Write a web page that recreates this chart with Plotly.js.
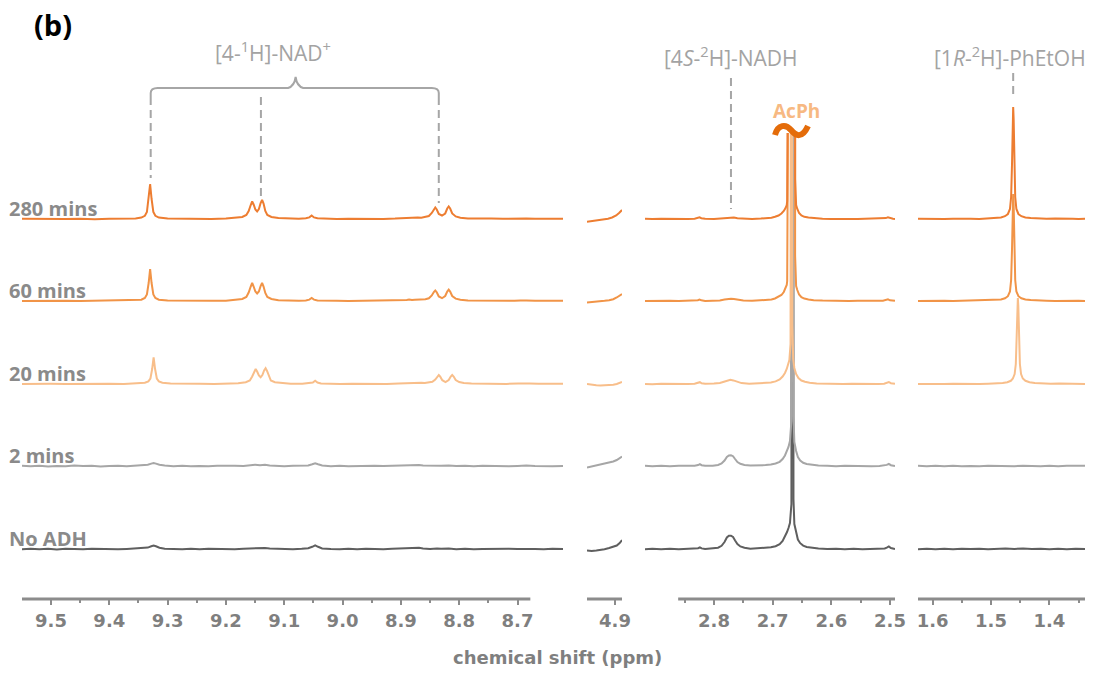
<!DOCTYPE html>
<html>
<head>
<meta charset="utf-8">
<script src="https://cdn.plot.ly/plotly-3.0.1.min.js"></script>
<style>
  html, body { margin: 0; padding: 0; background: #ffffff; }
  #chart { width: 1105px; height: 675px; }
</style>
</head>
<body>
<div id="chart"></div>
<script>
// ---------------------------------------------------------------
// 1H NMR time course: stacked spectra, four chemical-shift windows.
// Each spectrum is a list of [ppm, intensity] points.
// ---------------------------------------------------------------

const rowLabels = ['280 mins', '60 mins', '20 mins', '2 mins', 'No ADH'];

// --- window 1: 9.55 - 8.62 ppm ([4-1H]-NAD+ aromatic signals) ---
const nad280 = [[9.550,0.2],[9.525,-0.1],[9.500,0.3],[9.475,0.0],[9.450,0.2],[9.425,-0.2],[9.400,0.3],[9.375,0.1],[9.355,0.6],[9.345,1.4],[9.339,3.2],[9.3355,7],[9.3325,20],[9.330,35],[9.3275,20],[9.3245,7],[9.321,3.2],[9.315,1.4],[9.300,0.5],[9.275,0.1],[9.250,0.3],[9.225,0.0],[9.200,0.4],[9.185,0.9],[9.172,2],[9.165,4],[9.161,8],[9.1575,14],[9.155,17.5],[9.1525,14.5],[9.1495,9.5],[9.1465,7.5],[9.1435,10],[9.1405,16],[9.138,19],[9.1355,15.5],[9.1325,8],[9.129,4],[9.122,2],[9.110,0.9],[9.095,0.4],[9.075,0.3],[9.063,0.7],[9.057,1.6],[9.053,3.5],[9.049,1.6],[9.043,0.7],[9.030,0.3],[9.010,0.1],[8.990,0.3],[8.970,0.0],[8.950,0.2],[8.930,0.1],[8.910,0.4],[8.898,0.7],[8.890,1.2],[8.886,1.6],[8.881,1.1],[8.876,1.4],[8.871,1.5],[8.865,1.3],[8.858,2],[8.852,3],[8.847,6],[8.8435,10],[8.841,11.5],[8.8385,9.5],[8.835,5],[8.8295,3.5],[8.824,5.5],[8.8205,10.5],[8.818,12.5],[8.8155,10.5],[8.812,5.5],[8.806,2.6],[8.798,1.3],[8.785,0.6],[8.765,0.2],[8.745,0.4],[8.725,0.2],[8.705,0.4],[8.695,0.6],[8.690,0.9],[8.685,0.6],[8.670,0.3],[8.650,0.1],[8.635,0.3],[8.622,0.2]];
const nad60 = [[9.550,-0.1],[9.525,0.2],[9.500,0.0],[9.475,0.3],[9.450,-0.1],[9.425,0.2],[9.400,0.0],[9.375,0.3],[9.355,0.6],[9.345,1.3],[9.339,3],[9.3355,6.5],[9.3325,18],[9.330,32],[9.3275,18],[9.3245,6.5],[9.321,3],[9.315,1.3],[9.300,0.4],[9.275,0.2],[9.250,-0.1],[9.225,0.2],[9.200,0.3],[9.185,0.9],[9.172,2],[9.165,4],[9.161,8.5],[9.1575,14.5],[9.155,18],[9.1525,14.5],[9.1495,9.5],[9.1465,7.5],[9.1435,9.5],[9.1405,15],[9.138,18],[9.1355,14.5],[9.1325,8],[9.129,4],[9.122,2],[9.110,0.8],[9.095,0.4],[9.075,0.2],[9.063,0.6],[9.057,1.4],[9.053,3],[9.049,1.4],[9.043,0.6],[9.030,0.2],[9.010,0.3],[8.990,0.0],[8.970,0.2],[8.950,0.0],[8.930,0.3],[8.910,0.3],[8.898,0.6],[8.890,1.1],[8.886,1.5],[8.881,1.0],[8.876,1.3],[8.871,1.4],[8.865,1.2],[8.858,1.8],[8.852,2.7],[8.847,5.5],[8.8435,9],[8.841,10.5],[8.8385,8.8],[8.835,4.5],[8.8295,2.8],[8.824,5],[8.8205,9.5],[8.818,11.3],[8.8155,9.5],[8.812,5],[8.806,2.4],[8.798,1.2],[8.785,0.5],[8.765,0.3],[8.745,0.1],[8.725,0.4],[8.705,0.3],[8.695,0.5],[8.690,0.8],[8.685,0.5],[8.670,0.2],[8.650,0.3],[8.635,0.1],[8.622,0.2]];
const nad20 = [[9.550,0.1],[9.525,-0.2],[9.500,0.2],[9.475,0.0],[9.450,0.3],[9.425,0.0],[9.400,0.2],[9.375,-0.1],[9.350,0.5],[9.339,1.2],[9.333,2.6],[9.3295,5.5],[9.3265,15],[9.324,26.7],[9.3215,15],[9.3185,5.5],[9.315,2.6],[9.309,1.2],[9.295,0.4],[9.270,0.0],[9.245,0.3],[9.220,0.1],[9.195,0.4],[9.179,0.8],[9.166,1.8],[9.159,3.5],[9.155,7.5],[9.1515,12.5],[9.149,15],[9.1465,12.5],[9.1435,8.5],[9.1405,6.7],[9.1375,9],[9.1345,13.5],[9.132,15.7],[9.1295,13],[9.1265,7.5],[9.123,3.5],[9.116,1.8],[9.104,0.8],[9.089,0.3],[9.069,0.2],[9.057,0.6],[9.051,1.5],[9.047,3.3],[9.043,1.5],[9.037,0.6],[9.024,0.3],[9.004,0.0],[8.984,0.3],[8.964,0.1],[8.944,0.3],[8.924,0.0],[8.904,0.4],[8.892,0.7],[8.884,1.0],[8.880,1.3],[8.875,0.9],[8.870,1.1],[8.865,1.3],[8.859,1.0],[8.852,1.5],[8.846,2.2],[8.841,4.5],[8.8375,7.5],[8.835,9],[8.8325,7.3],[8.829,3.8],[8.8235,2.0],[8.818,4],[8.8145,7.5],[8.812,9],[8.8095,7.5],[8.806,4],[8.800,2],[8.792,1],[8.779,0.4],[8.759,0.1],[8.739,0.3],[8.719,0.1],[8.699,0.4],[8.689,0.6],[8.684,0.9],[8.679,0.5],[8.664,0.2],[8.644,0.3],[8.629,0.1],[8.622,0.2]];
const nad2 = [[9.550,0.3],[9.535,-0.3],[9.520,0.2],[9.505,-0.4],[9.490,0.1],[9.475,-0.2],[9.460,0.4],[9.445,-0.1],[9.430,0.2],[9.415,-0.4],[9.400,0.0],[9.385,0.3],[9.370,-0.2],[9.355,0.2],[9.343,0.5],[9.334,1.2],[9.328,2.4],[9.324,3.0],[9.320,2.4],[9.314,1.2],[9.305,0.4],[9.290,-0.2],[9.275,0.2],[9.260,-0.3],[9.245,0.1],[9.230,-0.2],[9.215,0.3],[9.200,-0.1],[9.185,0.2],[9.170,0.0],[9.158,0.6],[9.150,1.3],[9.1415,0.7],[9.133,1.3],[9.125,0.6],[9.112,0.1],[9.100,-0.3],[9.085,0.2],[9.070,0.0],[9.059,0.6],[9.052,1.8],[9.047,2.8],[9.042,1.8],[9.035,0.5],[9.020,-0.2],[9.005,0.2],[8.990,-0.3],[8.975,0.1],[8.960,-0.2],[8.945,0.2],[8.930,-0.1],[8.915,0.3],[8.900,0.1],[8.888,0.6],[8.881,1.1],[8.876,0.7],[8.869,1.1],[8.862,0.5],[8.850,0.2],[8.838,0.6],[8.831,0.3],[8.818,0.5],[8.805,0.0],[8.790,0.3],[8.775,-0.2],[8.760,0.2],[8.745,-0.1],[8.730,0.2],[8.715,-0.2],[8.700,0.1],[8.685,0.4],[8.670,-0.1],[8.655,0.2],[8.640,-0.2],[8.622,0.1]];
const nadNo = [[9.550,-0.2],[9.535,0.3],[9.520,-0.3],[9.505,0.2],[9.490,-0.4],[9.475,0.3],[9.460,0.0],[9.445,-0.3],[9.430,0.3],[9.415,-0.1],[9.400,0.2],[9.385,-0.3],[9.370,0.1],[9.355,0.4],[9.343,0.6],[9.334,1.4],[9.328,2.7],[9.324,3.4],[9.320,2.7],[9.314,1.3],[9.305,0.3],[9.290,0.0],[9.275,-0.3],[9.260,0.2],[9.245,-0.2],[9.230,0.3],[9.215,-0.1],[9.200,0.2],[9.185,-0.2],[9.170,0.3],[9.158,0.6],[9.150,1.1],[9.1415,0.6],[9.133,1.0],[9.125,0.4],[9.112,0.0],[9.100,0.3],[9.085,-0.2],[9.070,0.2],[9.059,0.8],[9.052,2.2],[9.047,3.7],[9.042,2.2],[9.035,0.6],[9.020,0.0],[9.005,-0.3],[8.990,0.2],[8.975,-0.2],[8.960,0.3],[8.945,0.0],[8.930,-0.3],[8.915,0.2],[8.900,0.4],[8.888,0.8],[8.881,1.3],[8.876,0.8],[8.869,1.3],[8.862,0.6],[8.850,0.1],[8.838,0.5],[8.831,0.2],[8.818,0.4],[8.805,-0.2],[8.790,0.2],[8.775,-0.3],[8.760,0.1],[8.745,0.3],[8.730,-0.2],[8.715,0.2],[8.700,-0.1],[8.685,0.3],[8.670,0.0],[8.655,-0.3],[8.640,0.2],[8.622,-0.1]];

// --- window 2: 4.95 - 4.89 ppm (edge of the water signal) ---
const hdo280 = [[4.948,-2.7],[4.940,-2.2],[4.932,-1.8],[4.925,-1.2],[4.918,-0.8],[4.912,0.2],[4.905,1.5],[4.898,3.5],[4.893,6],[4.888,9]];
const hdo60 = [[4.948,-1.5],[4.940,-1.2],[4.932,-0.5],[4.925,-0.8],[4.918,0.2],[4.910,0.8],[4.903,1.8],[4.897,3.5],[4.892,5],[4.888,7]];
const hdo20 = [[4.948,0],[4.940,-0.8],[4.932,-1.3],[4.925,-1.5],[4.918,-1.2],[4.910,-1.4],[4.903,-0.8],[4.897,0],[4.892,1],[4.888,2]];
const hdo2 = [[4.948,-1.5],[4.940,-0.5],[4.932,0.5],[4.925,1.5],[4.918,2.5],[4.910,3],[4.903,4.5],[4.897,6],[4.892,7.5],[4.888,9.5]];
const hdoNo = [[4.948,-1.5],[4.940,-2],[4.932,-1.5],[4.925,-1],[4.918,-0.2],[4.910,1],[4.903,2],[4.897,3.5],[4.892,6],[4.888,9]];

// --- window 3: 2.92 - 2.49 ppm ([4S-2H]-NADH and acetophenone CH3) ---
const acph280 = [[2.9175,0.2],[2.905,-0.1],[2.890,0.3],[2.875,0.0],[2.860,0.2],[2.845,-0.1],[2.833,0.3],[2.8275,0.9],[2.8245,1.6],[2.8215,0.8],[2.815,0.2],[2.800,0.0],[2.790,0.4],[2.782,1.0],[2.776,1.5],[2.771,1.7],[2.766,1.4],[2.760,0.8],[2.750,0.3],[2.735,0.1],[2.720,0.4],[2.710,0.8],[2.702,1.3],[2.696,2.2],[2.690,3.5],[2.685,5.5],[2.681,8],[2.678,11],[2.676,14],[2.6752,18],[2.6748,40],[2.6745,1600],[2.6620,1600],[2.6617,40],[2.6612,18],[2.660,14],[2.658,10],[2.655,6],[2.651,3.5],[2.646,2.2],[2.639,1.4],[2.630,0.8],[2.615,0.3],[2.600,0.0],[2.585,0.3],[2.570,0.1],[2.555,-0.1],[2.540,0.2],[2.525,0.0],[2.512,0.3],[2.507,0.9],[2.5035,1.8],[2.500,0.8],[2.495,0.2],[2.4915,0.1]];
const acph60 = [[2.9175,-0.1],[2.905,0.2],[2.890,0.0],[2.875,0.3],[2.860,-0.1],[2.845,0.2],[2.833,0.3],[2.8275,0.8],[2.8245,1.5],[2.8215,0.7],[2.815,0.1],[2.800,0.3],[2.790,0.6],[2.782,1.4],[2.776,2.1],[2.771,2.3],[2.766,1.9],[2.760,1.1],[2.750,0.4],[2.735,0.2],[2.720,0.5],[2.710,0.9],[2.702,1.5],[2.696,2.5],[2.690,4],[2.685,6],[2.681,9],[2.678,12.5],[2.676,16],[2.6752,20],[2.6748,45],[2.6745,1600],[2.6620,1600],[2.6617,45],[2.6612,20],[2.660,15],[2.658,11],[2.655,6.5],[2.651,3.8],[2.646,2.4],[2.639,1.5],[2.630,0.8],[2.615,0.4],[2.600,0.1],[2.585,0.3],[2.570,0.0],[2.555,0.2],[2.540,-0.1],[2.525,0.2],[2.512,0.3],[2.507,0.8],[2.5035,1.6],[2.500,0.7],[2.495,0.1],[2.4915,0.2]];
const acph20 = [[2.9175,0.1],[2.905,-0.2],[2.890,0.2],[2.875,-0.1],[2.860,0.3],[2.845,0.0],[2.833,0.2],[2.827,0.8],[2.824,1.8],[2.821,0.7],[2.815,0.2],[2.800,0.4],[2.790,1.0],[2.783,2.2],[2.777,3.6],[2.772,4.2],[2.767,3.6],[2.761,2.2],[2.753,0.9],[2.740,0.3],[2.725,0.5],[2.712,0.9],[2.703,1.5],[2.695,2.6],[2.688,4.5],[2.683,7.5],[2.679,11],[2.676,15],[2.6735,19],[2.6715,24],[2.6695,40],[2.6682,1600],[2.6676,1600],[2.6665,60],[2.665,25],[2.663,16],[2.660,10],[2.656,6],[2.651,3.5],[2.645,2.2],[2.637,1.2],[2.625,0.6],[2.610,0.2],[2.595,0.4],[2.580,0.0],[2.565,0.2],[2.550,-0.1],[2.535,0.2],[2.520,0.0],[2.510,0.3],[2.5055,1.0],[2.502,2.0],[2.4985,0.8],[2.4915,0.2]];
const acph2 = [[2.9175,0.2],[2.905,-0.3],[2.890,0.2],[2.875,-0.2],[2.860,0.3],[2.845,-0.1],[2.833,0.3],[2.827,0.9],[2.824,1.9],[2.821,0.8],[2.815,0.2],[2.802,0.3],[2.793,1.0],[2.787,2.5],[2.782,5.5],[2.778,9],[2.7745,10.5],[2.771,10.7],[2.7675,9.8],[2.764,7],[2.760,4],[2.755,2.2],[2.748,1.0],[2.738,0.4],[2.725,0.5],[2.712,0.9],[2.703,1.5],[2.695,2.5],[2.688,4.2],[2.683,7],[2.679,10.5],[2.6755,15],[2.673,19],[2.6705,25],[2.668,45],[2.6668,1600],[2.6655,1600],[2.6645,50],[2.663,24],[2.660,15],[2.657,9],[2.653,5.5],[2.648,3.2],[2.642,2],[2.634,1.2],[2.622,0.5],[2.607,0.2],[2.592,-0.2],[2.577,0.2],[2.562,-0.1],[2.547,0.2],[2.532,-0.2],[2.518,0.1],[2.509,0.4],[2.5055,1.1],[2.502,2.2],[2.4985,0.8],[2.4915,0.0]];
const acphNo = [[2.9175,-0.2],[2.905,0.2],[2.890,-0.3],[2.875,0.2],[2.860,-0.2],[2.845,0.3],[2.833,0.0],[2.827,0.8],[2.824,1.7],[2.821,0.6],[2.815,-0.1],[2.802,0.4],[2.793,1.3],[2.787,3.2],[2.782,7],[2.778,11.5],[2.7745,13.2],[2.771,13.3],[2.7675,12],[2.764,8.5],[2.760,5],[2.755,2.6],[2.748,1.2],[2.738,0.3],[2.725,0.6],[2.712,1.0],[2.703,1.7],[2.695,2.8],[2.688,4.8],[2.683,8],[2.679,12],[2.6755,17],[2.673,21],[2.6705,26],[2.668,45],[2.6668,1600],[2.6655,1600],[2.6645,50],[2.663,25],[2.660,16],[2.657,9.5],[2.653,5.8],[2.648,3.4],[2.642,2.1],[2.634,1.3],[2.622,0.5],[2.607,-0.1],[2.592,0.3],[2.577,-0.2],[2.562,0.2],[2.547,-0.2],[2.532,0.1],[2.518,-0.1],[2.509,0.5],[2.5055,1.4],[2.502,2.6],[2.4985,1.0],[2.4915,0.1]];

// --- window 4: 1.63 - 1.34 ppm ([1R-2H]-1-phenylethanol CH3) ---
const phe280 = [[1.625,0.2],[1.610,-0.1],[1.595,0.3],[1.580,0.0],[1.565,0.2],[1.550,-0.1],[1.535,0.3],[1.520,0.1],[1.505,0.5],[1.492,0.9],[1.483,1.6],[1.476,2.8],[1.471,5],[1.4675,10],[1.4655,22],[1.4640,55],[1.4628,100],[1.4620,112],[1.4612,100],[1.4600,55],[1.4585,22],[1.4565,10],[1.453,5],[1.448,2.8],[1.441,1.6],[1.432,0.9],[1.420,0.5],[1.405,0.2],[1.390,0.4],[1.375,0.0],[1.360,0.3],[1.350,0.1],[1.339,0.2]];
const phe60 = [[1.625,-0.1],[1.610,0.2],[1.595,0.0],[1.580,0.3],[1.565,-0.1],[1.550,0.2],[1.535,0.0],[1.520,0.3],[1.505,0.5],[1.492,0.9],[1.483,1.5],[1.476,2.7],[1.471,4.8],[1.4675,9.5],[1.4655,21],[1.4640,52],[1.4628,96],[1.4620,107],[1.4612,96],[1.4600,52],[1.4585,21],[1.4565,9.5],[1.453,4.8],[1.448,2.7],[1.441,1.5],[1.432,0.9],[1.420,0.4],[1.405,0.3],[1.390,0.0],[1.375,0.3],[1.360,0.1],[1.350,0.2],[1.339,0.0]];
const phe20 = [[1.625,0.1],[1.610,-0.2],[1.595,0.2],[1.580,-0.1],[1.565,0.3],[1.550,0.0],[1.535,0.2],[1.520,0.0],[1.505,0.3],[1.490,0.6],[1.480,1.0],[1.472,1.8],[1.466,3.2],[1.4625,5.5],[1.4595,10],[1.4575,20],[1.4560,48],[1.4548,78],[1.4540,86],[1.4532,78],[1.4520,48],[1.4505,20],[1.4485,10],[1.4455,5.5],[1.441,3.2],[1.434,1.8],[1.425,1.0],[1.413,0.5],[1.398,0.2],[1.383,0.4],[1.368,0.1],[1.353,0.3],[1.339,0.1]];
const phe2 = [[1.625,0.2],[1.610,-0.3],[1.595,0.3],[1.580,-0.2],[1.565,0.2],[1.550,-0.3],[1.535,0.1],[1.520,-0.2],[1.505,0.3],[1.490,-0.1],[1.475,0.2],[1.460,-0.2],[1.445,0.3],[1.430,0.0],[1.415,-0.3],[1.400,0.2],[1.385,-0.2],[1.370,0.3],[1.355,-0.1],[1.339,0.2]];
const pheNo = [[1.625,-0.2],[1.610,0.3],[1.595,-0.2],[1.580,0.2],[1.565,-0.3],[1.550,0.2],[1.535,-0.1],[1.520,0.3],[1.505,-0.2],[1.490,0.2],[1.475,0.4],[1.460,0.1],[1.445,0.4],[1.430,-0.1],[1.415,0.2],[1.400,-0.3],[1.385,0.2],[1.370,-0.2],[1.355,0.3],[1.339,-0.1]];

// tick positions and labels of the four ppm windows
const nadTicks = [9.5, 9.4, 9.3, 9.2, 9.1, 9.0, 8.9, 8.8, 8.7];
const nadTickText = ['9.5', '9.4', '9.3', '9.2', '9.1', '9.0', '8.9', '8.8', '8.7'];
const nadMinor = [9.45, 9.35, 9.25, 9.15, 9.05, 8.95, 8.85, 8.75];
const hdoTicks = [4.9];
const hdoTickText = ['4.9'];
const acphTicks = [2.8, 2.7, 2.6, 2.5];
const acphTickText = ['2.8', '2.7', '2.6', '2.5'];
const acphMinor = [2.85, 2.75, 2.65, 2.55];
const pheTicks = [1.6, 1.5, 1.4];
const pheTickText = ['1.6', '1.5', '1.4'];
const pheMinor = [1.55, 1.45, 1.35];

// signal positions marked with dashed guides (ppm)
const nadMarks = [9.329, 9.140, 8.835];
const nadhMark = 2.771;
const phetohMark = 1.462;

// ---------------------------------------------------------------
// styling / layout
// ---------------------------------------------------------------
const W = 1105, H = 675;
const px = p => p / W;          // horizontal pixel -> paper
const py = p => 1 - p / H;      // vertical pixel -> paper

const rowOffsets = [330, 248, 165, 83, 0];   // vertical stacking of the spectra
const rowColors = ['#ED7D31', '#F19447', '#F8BE8A', '#A6A6A6', '#5F5F5F'];

const windows = [
  { spectra: [nad280, nad60, nad20, nad2, nadNo], xa: 'x', ya: 'y' },
  { spectra: [hdo280, hdo60, hdo20, hdo2, hdoNo], xa: 'x2', ya: 'y2' },
  { spectra: [acph280, acph60, acph20, acph2, acphNo], xa: 'x3', ya: 'y3' },
  { spectra: [phe280, phe60, phe20, phe2, pheNo], xa: 'x4', ya: 'y4' }
];

const traces = [];
windows.forEach(win => {
  // bottom spectrum first so the orange spectra lie on top
  for (let r = rowLabels.length - 1; r >= 0; r--) {
    const s = win.spectra[r];
    traces.push({
      type: 'scatter', mode: 'lines',
      x: s.map(p => p[0]),
      y: s.map(p => p[1] + rowOffsets[r]),
      xaxis: win.xa, yaxis: win.ya,
      line: { color: rowColors[r], width: 2, shape: 'linear' },
      hoverinfo: 'skip', showlegend: false, name: rowLabels[r]
    });
  }
});

const tickFont = { family: 'DejaVu Sans, Verdana, sans-serif', size: 18, color: '#7F7F7F', weight: 'bold' };
const axisGray = '#8C8C8C';

function xAxis(domainPx, range, anchor, ticks, text, minor) {
  const ax = {
    domain: [px(domainPx[0]), px(domainPx[1])],
    range: range, anchor: anchor,
    showgrid: false, zeroline: false, showline: false,
    tickmode: 'array', tickvals: ticks, ticktext: text,
    ticks: 'outside', ticklen: 5, tickwidth: 2, tickcolor: axisGray,
    tickfont: tickFont, fixedrange: true
  };
  if (minor) {
    ax.minor = { tickmode: 'array', tickvals: minor, ticks: 'outside', ticklen: 3, tickwidth: 2, tickcolor: axisGray, showgrid: false };
  }
  return ax;
}
function yAxis(topPx, top, anchor) {
  return {
    domain: [py(599), py(topPx)], range: [-50, top], anchor: anchor,
    visible: false, fixedrange: true
  };
}

const axisLineY = py(599);
const shapes = [
  // axis lines (window 1 line stops short of the trace end)
  { type: 'line', xref: 'x',  yref: 'paper', x0: 9.5497, x1: 8.678,  y0: axisLineY, y1: axisLineY, line: { color: axisGray, width: 3 } },
  { type: 'line', xref: 'x2', yref: 'paper', x0: 4.948,  x1: 4.888,  y0: axisLineY, y1: axisLineY, line: { color: axisGray, width: 3 } },
  { type: 'line', xref: 'x3', yref: 'paper', x0: 2.861,  x1: 2.4915, y0: axisLineY, y1: axisLineY, line: { color: axisGray, width: 3 } },
  { type: 'line', xref: 'x4', yref: 'paper', x0: 1.625,  x1: 1.339,  y0: axisLineY, y1: axisLineY, line: { color: axisGray, width: 3 } }
];

const guide = { color: '#A6A6A6', width: 2, dash: '8px,5px' };
const nadGuideBottoms = [178, 197, 203];
nadMarks.forEach((m, i) => {
  shapes.push({ type: 'line', xref: 'x', yref: 'paper', x0: m, x1: m, y0: py(97), y1: py(nadGuideBottoms[i]), line: guide });
});
shapes.push({ type: 'line', xref: 'x3', yref: 'paper', x0: nadhMark, x1: nadhMark, y0: py(78), y1: py(209), line: guide });
shapes.push({ type: 'line', xref: 'x4', yref: 'paper', x0: phetohMark, x1: phetohMark, y0: py(73), y1: py(99), line: guide });

// brace grouping the three NAD+ signals
const bL = nadMarks[0], bR = nadMarks[2], bM = 9.0805, r = 0.012;
const braceY = py(88), braceEnd = py(97), braceTip = py(77);
shapes.push({
  type: 'path', xref: 'x', yref: 'paper',
  path: `M ${bL},${braceEnd} L ${bL},${py(93)} Q ${bL},${braceY} ${bL - r},${braceY} ` +
        `L ${bM + 0.013},${braceY} Q ${bM + 0.002},${py(86)} ${bM},${braceTip} ` +
        `Q ${bM - 0.002},${py(86)} ${bM - 0.013},${braceY} ` +
        `L ${bR + r},${braceY} Q ${bR},${braceY} ${bR},${py(93)} L ${bR},${braceEnd}`,
  line: { color: '#A6A6A6', width: 2 }, fillcolor: 'rgba(0,0,0,0)'
});

// axis-break mark on the truncated acetophenone signal
shapes.push({
  type: 'path', xref: 'paper', yref: 'paper',
  path: `M ${px(775)},${py(135)} C ${px(778)},${py(124)} ${px(786)},${py(124)} ${px(791)},${py(130)} ` +
        `S ${px(802)},${py(139)} ${px(808)},${py(126)}`,
  line: { color: '#E46C0A', width: 6 }, fillcolor: 'rgba(0,0,0,0)'
});

const labelFont = { family: 'Open Sans, sans-serif', size: 20, color: '#8A8A8A', weight: 'bold' };
const noteFont = { family: 'Open Sans, sans-serif', size: 21, color: '#A3A3A3', weight: 400 };

const annotations = rowLabels.map((t, i) => ({
  text: t, xref: 'paper', yref: 'y', x: px(7), y: rowOffsets[i] + 11,
  xanchor: 'left', yanchor: 'middle', showarrow: false, font: labelFont
}));
annotations.push(
  { text: '(b)', xref: 'paper', yref: 'paper', x: px(32), y: py(25), xanchor: 'left', yanchor: 'middle',
    showarrow: false, font: { family: 'Open Sans, sans-serif', size: 29, color: '#000000', weight: 700 } },
  { text: '[4-<sup>1</sup>H]-NAD<sup>+</sup>', xref: 'x', yref: 'paper', x: 9.119, y: py(52), xanchor: 'center', yanchor: 'middle',
    showarrow: false, font: noteFont },
  { text: '[4<i>S</i>-<sup>2</sup>H]-NADH', xref: 'x3', yref: 'paper', x: nadhMark, y: py(57), xanchor: 'center', yanchor: 'middle',
    showarrow: false, font: noteFont },
  { text: '[1<i>R</i>-<sup>2</sup>H]-PhEtOH', xref: 'x4', yref: 'paper', x: 1.468, y: py(57), xanchor: 'center', yanchor: 'middle',
    showarrow: false, font: noteFont },
  { text: 'AcPh', xref: 'x3', yref: 'paper', x: 2.66, y: py(111), xanchor: 'center', yanchor: 'middle',
    showarrow: false, font: { family: 'Open Sans, sans-serif', size: 19, color: '#F7B982', weight: 700 } },
  { text: 'chemical shift (ppm)', xref: 'paper', yref: 'paper', x: px(557), y: py(657), xanchor: 'center', yanchor: 'middle',
    showarrow: false, font: { family: 'DejaVu Sans, Verdana, sans-serif', size: 18, color: '#7F7F7F', weight: 'bold' } }
);

const layout = {
  width: W, height: H,
  margin: { l: 0, r: 0, t: 0, b: 0, pad: 0 },
  paper_bgcolor: '#ffffff', plot_bgcolor: 'rgba(0,0,0,0)',
  showlegend: false,
  xaxis:  xAxis([22, 563],  [9.5497, 8.622], 'y',  nadTicks,  nadTickText,  nadMinor),
  xaxis2: xAxis([587, 622], [4.948, 4.888],  'y2', hdoTicks,  hdoTickText,  null),
  xaxis3: xAxis([645, 895], [2.9175, 2.4915],'y3', acphTicks, acphTickText, acphMinor),
  xaxis4: xAxis([918, 1085],[1.625, 1.339],  'y4', pheTicks,  pheTickText,  pheMinor),
  yaxis:  yAxis(89, 460, 'x'),
  yaxis2: yAxis(89, 460, 'x2'),
  yaxis3: yAxis(133, 416, 'x3'),
  yaxis4: yAxis(89, 460, 'x4'),
  shapes: shapes,
  annotations: annotations
};

Plotly.newPlot('chart', traces, layout, { displayModeBar: false, staticPlot: true });
</script>
</body>
</html>
